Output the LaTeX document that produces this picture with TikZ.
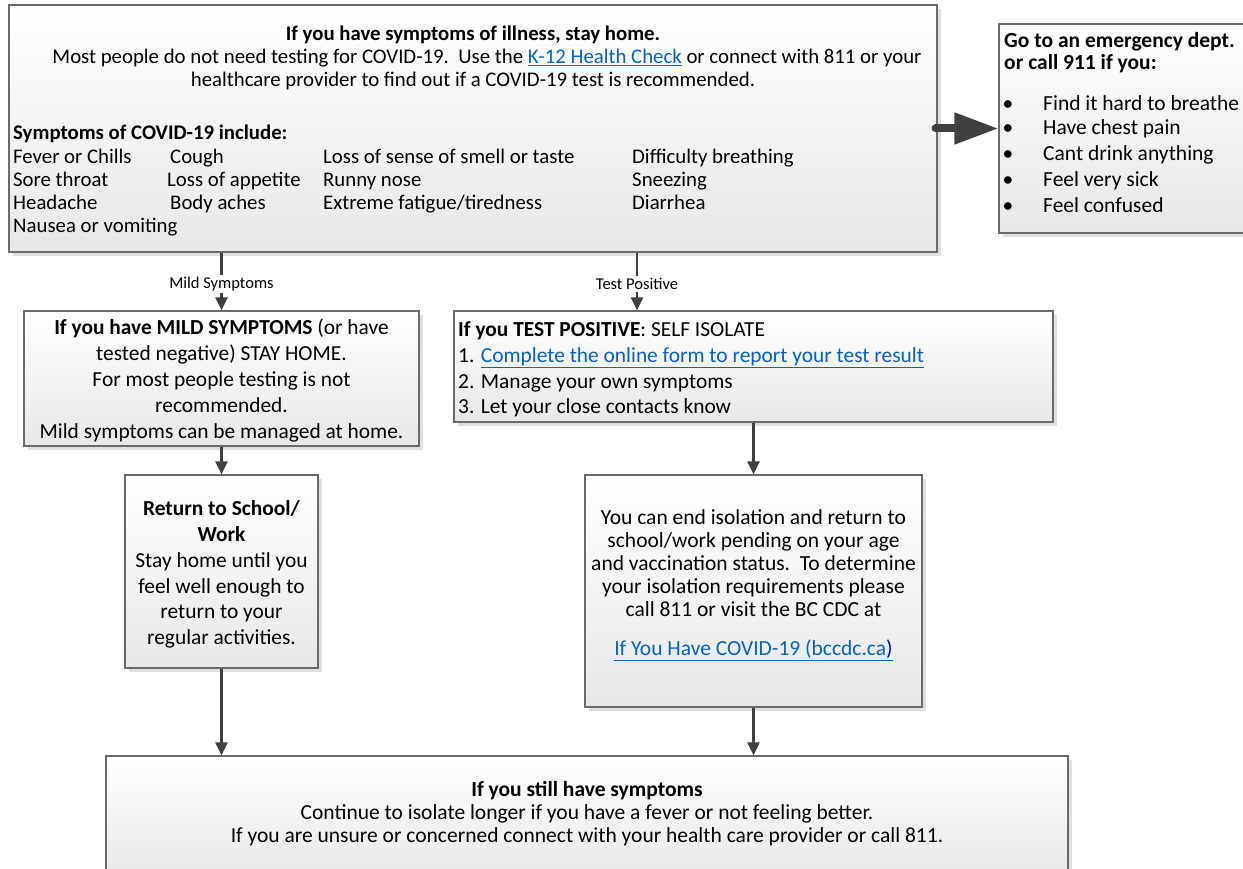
\documentclass[tikz,border=0pt]{standalone}
\usepackage{fontspec}
\setmainfont{Carlito}
\usetikzlibrary{arrows.meta,shadows}
\definecolor{linkblue}{HTML}{0563C1}
\definecolor{pureblue}{HTML}{0000EE}
\definecolor{lineg}{HTML}{404040}
\definecolor{bordg}{HTML}{6A6A6A}
\newcommand\lnk[1]{\textcolor{linkblue}{\underline{#1}}}
\newcommand\fA{\fontsize{20.8}{23}\selectfont}
\newcommand\fC{\fontsize{21.5}{23}\selectfont}
\newcommand\fB{\fontsize{21.4}{25.8}\selectfont}
\newcommand\fL{\fontsize{16.5}{18}\selectfont}
\tikzset{
  box/.style={draw=bordg, line width=1.2pt, top color=white, bottom color=black!9,
    inner sep=0pt, drop shadow={shadow xshift=4pt, shadow yshift=-4pt, fill=black!12, opacity=1}},
  txt/.style={inner sep=0pt, text=black},
  conn/.style={draw=lineg, line width=2.2pt, -{Triangle[length=13pt,width=12pt]}},
  lbl/.style={fill=white, font=\fL, inner sep=2pt, text=black},
  bigarrow/.style={draw=lineg, line width=8pt, line cap=round, -{Triangle[length=44pt,width=30pt]}}
}
\begin{document}
\begin{tikzpicture}[x=1pt, y=-1pt]
\useasboundingbox (0,0) rectangle (1243,869);
% boxes
\node[box, minimum width=928pt, minimum height=247pt] (top) at (473,128.5) {};
\node[box, minimum width=254pt, minimum height=209pt] (emerg) at (1126,128.5) {};
\node[box, minimum width=395pt, minimum height=135pt] (mild) at (221.5,378.5) {};
\node[box, minimum width=599pt, minimum height=111pt] (testpos) at (753.5,366.5) {};
\node[box, minimum width=193pt, minimum height=193pt] (ret) at (221.5,571.5) {};
\node[box, minimum width=337pt, minimum height=232pt] (endiso) at (753.5,591) {};
\node[box, minimum width=962pt, minimum height=124pt] (bot) at (587,818) {};

% top box text
\node[txt, anchor=base, font=\fA\bfseries] (t1) at (473,41) {If you have symptoms of illness, stay home.};
\node[txt, anchor=base, font=\fA] (t2) at (487,64) {Most people do not need testing for COVID-19.\ \ Use the \lnk{K-12 Health Check} or connect with 811 or your};
\node[txt, anchor=base, font=\fA] (t3) at (473,87) {healthcare provider to find out if a COVID-19 test is recommended.};
\node[txt, anchor=base west, font=\fA\bfseries] (t4) at (13,140) {Symptoms of COVID-19 include:};
\node[txt, anchor=base west, font=\fA] (s11) at (13,164) {Fever or Chills};
\node[txt, anchor=base west, font=\fA] (s12) at (13,187) {Sore throat};
\node[txt, anchor=base west, font=\fA] (s13) at (13,210) {Headache};
\node[txt, anchor=base west, font=\fA] (s14) at (13,233) {Nausea or vomiting};
\node[txt, anchor=base west, font=\fA] (s21) at (170,164) {Cough};
\node[txt, anchor=base west, font=\fA] (s22) at (167,187) {Loss of appetite};
\node[txt, anchor=base west, font=\fA] (s23) at (170,210) {Body aches};
\node[txt, anchor=base west, font=\fA] (s31) at (323,164) {Loss of sense of smell or taste};
\node[txt, anchor=base west, font=\fA] (s32) at (323,187) {Runny nose};
\node[txt, anchor=base west, font=\fA] (s33) at (323,210) {Extreme fatigue/tiredness};
\node[txt, anchor=base west, font=\fA] (s41) at (632,164) {Difficulty breathing};
\node[txt, anchor=base west, font=\fA] (s42) at (632,187) {Sneezing};
\node[txt, anchor=base west, font=\fA] (s43) at (632,210) {Diarrhea};

% emergency text
\node[txt, anchor=base west, font=\fC\bfseries] (e1) at (1004,48) {Go to an emergency dept.};
\node[txt, anchor=base west, font=\fC\bfseries] (e2) at (1004,70) {or call 911 if you:};
\foreach \i/\y/\t in {1/111/Find it hard to breathe, 2/135/Have chest pain, 3/161/Cant drink anything, 4/187/Feel very sick, 5/213/Feel confused}{
  \node[txt, anchor=base, font=\fC] (eb\i) at (1008,\y) {•};
  \node[txt, anchor=base west, font=\fC] (et\i) at (1043,\y) {\t};
}

% mild text
\node[txt, align=flush center, font=\fB] (mildtext) at (221.5,380.5)
  {\textbf{If you have MILD SYMPTOMS} (or have\\ tested negative) STAY HOME.\\ For most people testing is not\\ recommended.\\ Mild symptoms can be managed at home.};
% test positive text
\node[txt, align=flush left, font=\fB, anchor=west] (testtext) at (458,369.5)
  {\textbf{If you TEST POSITIVE}: SELF ISOLATE\\ 1. \lnk{Complete the online form to report your test result}\\ 2. Manage your own symptoms\\ 3. Let your close contacts know};
% return text
\node[txt, align=flush center, font=\fB] (rettext) at (221.5,574.5)
  {\textbf{Return to School/}\\ \textbf{Work}\\ Stay home until you\\ feel well enough to\\ return to your\\ regular activities.};

% end isolation text
\node[txt, align=flush center, font=\fC] (endisotext) at (753.5,585)
  {You can end isolation and return to\\ school/work pending on your age\\ and vaccination status.\ \ To determine\\ your isolation requirements please\\ call 811 or visit the BC CDC at\\[16pt]
   \textcolor{linkblue}{\underline{If You Have COVID-19 (bccdc.ca\textcolor{pureblue}{)}}}};

% bottom text
\node[txt, align=flush center, font=\fC] (bottext) at (587,814)
  {\textbf{If you still have symptoms}\\ Continue to isolate longer if you have a fever or not feeling better.\\ If you are unsure or concerned connect with your health care provider or call 811.};

% connectors
\coordinate (tp) at (637,0);
\draw[conn] (top.south -| mild.north) -- node[lbl, pos=0.54] (lab1) {Mild Symptoms} (mild.north);
\draw[conn] (top.south -| tp) -- node[lbl, pos=0.54] (lab2) {Test Positive} (testpos.north -| tp);
\draw[conn] (mild.south) -- (ret.north);
\draw[conn] (testpos.south) -- (endiso.north);
\draw[conn] (ret.south) -- (ret.south |- bot.north);
\draw[conn] (endiso.south) -- (endiso.south |- bot.north);
\draw[bigarrow] ([xshift=-2pt]top.east) -- (emerg.west);
\end{tikzpicture}
\end{document}
